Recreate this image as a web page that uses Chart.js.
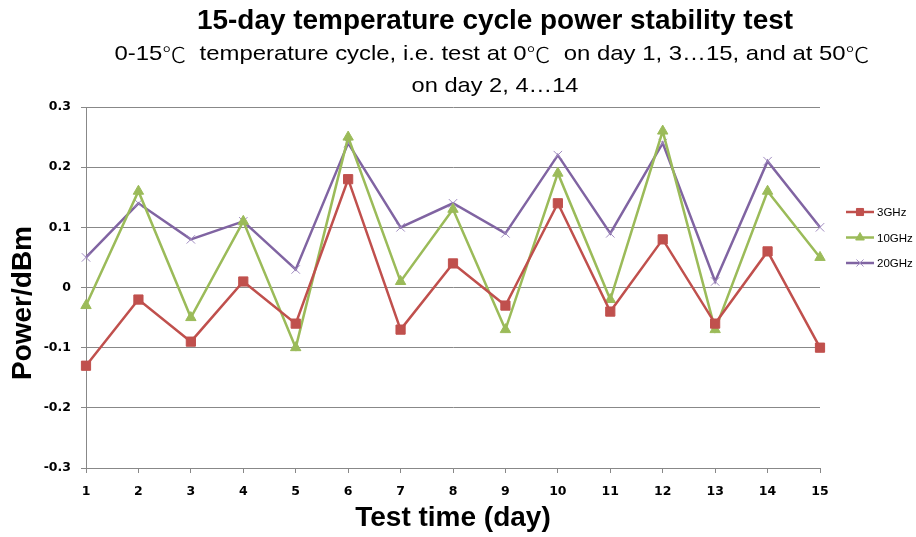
<!DOCTYPE html>
<html>
<head>
<meta charset="utf-8">
<script src="https://cdn.jsdelivr.net/npm/chart.js@4/dist/chart.umd.min.js"></script>
<style>
  html, body { margin: 0; padding: 0; background: #fff; }
  #wrap { width: 916px; height: 537px; position: relative; }
</style>
</head>
<body>
<div id="wrap"><canvas id="tempChart" width="916" height="537"></canvas></div>
<script>
// chart data
const days = ["1", "2", "3", "4", "5", "6", "7", "8", "9", "10", "11", "12", "13", "14", "15"];
const seriesNames = ["3GHz", "10GHz", "20GHz"];
const power3GHz = [-0.13, -0.02, -0.09, 0.01, -0.06, 0.18, -0.07, 0.04, -0.03, 0.14, -0.04, 0.08, -0.06, 0.06, -0.10];
const power10GHz = [-0.03, 0.16, -0.05, 0.11, -0.10, 0.25, 0.01, 0.13, -0.07, 0.19, -0.02, 0.26, -0.07, 0.16, 0.05];
const power20GHz = [0.05, 0.14, 0.08, 0.11, 0.03, 0.24, 0.10, 0.14, 0.09, 0.22, 0.09, 0.24, 0.01, 0.21, 0.10];
const yTicks = [-0.3, -0.2, -0.1, 0, 0.1, 0.2, 0.3];

const titleText = "15-day temperature cycle power stability test";
const subtitleLines = [
  "0-15\u2103  temperature cycle, i.e. test at 0\u2103  on day 1, 3\u202615, and at 50\u2103",
  "on day 2, 4\u202614"
];
const xTitle = "Test time (day)";
const yTitle = "Power/dBm";

const colors = ["#C0504D", "#9BBB59", "#8064A2"];
const markers = ["rect", "triangle", "crossRot"];
const gridColor = "#888888";

const latinFont = "21px 'Liberation Sans', Arial, sans-serif";
const cjkFont = "300 21px 'Noto Sans CJK SC', sans-serif";

// draw a line of text centred at cx, fitted to the given width;
// the degree sign uses a CJK font like the original
function fitText(ctx, text, cx, cy, width) {
  const parts = text.split(/(\u2103)/).filter((p) => p.length);
  const fontOf = (p) => (p === "\u2103" ? cjkFont : latinFont);
  let natural = 0;
  parts.forEach((p) => {
    ctx.font = fontOf(p);
    natural += ctx.measureText(p).width;
  });
  const k = width / natural;
  ctx.save();
  ctx.translate(cx - width / 2, cy);
  ctx.scale(k, 1);
  ctx.textAlign = "left";
  let x = 0;
  parts.forEach((p) => {
    ctx.font = fontOf(p);
    ctx.fillText(p, x, 0);
    x += ctx.measureText(p).width;
  });
  ctx.restore();
}

// titles, axis titles and the line+marker legend
const decorations = {
  id: "decorations",
  afterDraw(chart) {
    const ctx = chart.ctx;
    ctx.save();
    ctx.fillStyle = "#000";
    ctx.textAlign = "center";
    ctx.textBaseline = "middle";
    ctx.font = "bold 27px 'Liberation Sans', Arial, sans-serif";
    ctx.save();
    const tw = ctx.measureText(titleText).width;
    ctx.translate(495, 22);
    ctx.scale(596 / tw, 1);
    ctx.fillText(titleText, 0, 0);
    ctx.restore();

    fitText(ctx, subtitleLines[0], 492, 54, 755);
    fitText(ctx, subtitleLines[1], 495, 86, 167);

    ctx.textAlign = "center";
    ctx.font = "bold 28px 'Liberation Sans', Arial, sans-serif";
    ctx.fillText(xTitle, 453, 518);
    ctx.save();
    ctx.translate(23, 303);
    ctx.rotate(-Math.PI / 2);
    ctx.fillText(yTitle, 0, 0);
    ctx.restore();

    // legend
    ctx.font = "11.5px 'Liberation Sans', Arial, sans-serif";
    ctx.textAlign = "left";
    seriesNames.forEach((name, i) => {
      const y = 212 + i * 25.5;
      ctx.strokeStyle = colors[i];
      ctx.lineWidth = 2.5;
      ctx.beginPath();
      ctx.moveTo(846, y);
      ctx.lineTo(874, y);
      ctx.stroke();
      ctx.fillStyle = colors[i];
      ctx.strokeStyle = i === 2 ? "#A08CC0" : colors[i];
      ctx.lineWidth = 1;
      Chart.helpers.drawPoint(ctx, {
        pointStyle: markers[i],
        radius: 5,
        borderWidth: 1
      }, 860, y);
      ctx.fillStyle = "#000";
      ctx.fillText(name, 877, y + 1);
    });
    ctx.restore();
  }
};

function makeDataset(i, values) {
  return {
    label: seriesNames[i],
    data: values,
    borderColor: colors[i],
    backgroundColor: colors[i],
    borderWidth: 2.5,
    pointStyle: markers[i],
    pointRadius: i === 0 ? 6.5 : 6,
    pointBorderWidth: 1,
    pointBorderColor: i === 2 ? "#A08CC0" : colors[i],
    pointBackgroundColor: colors[i],
    tension: 0
  };
}

const ctx = document.getElementById("tempChart").getContext("2d");
new Chart(ctx, {
  type: "line",
  data: {
    labels: days,
    datasets: [
      makeDataset(0, power3GHz),
      makeDataset(1, power10GHz),
      makeDataset(2, power20GHz)
    ]
  },
  options: {
    responsive: false,
    animation: false,
    layout: { padding: { top: 107, right: 96, left: 0, bottom: 0 } },
    plugins: {
      legend: { display: false },
      title: { display: false },
      tooltip: { enabled: false }
    },
    scales: {
      x: {
        offset: false,
        grid: { drawOnChartArea: false, drawTicks: true, tickLength: 5, color: gridColor },
        border: { color: gridColor },
        ticks: {
          color: "#000",
          font: { family: "'DejaVu Sans', sans-serif", size: 12.5, weight: "bold" },
          padding: 11,
          maxRotation: 0
        },
        afterFit(scale) { scale.height = 69; }
      },
      y: {
        min: -0.3,
        max: 0.3,
        afterBuildTicks(scale) { scale.ticks = yTicks.map((v) => ({ value: v })); },
        grid: { color: gridColor, tickLength: 5 },
        border: { color: gridColor },
        ticks: {
          color: "#000",
          font: { family: "'DejaVu Sans', sans-serif", size: 12.5, weight: "bold" },
          padding: 10,
          callback: (v) => String(Math.round(v * 10) / 10)
        },
        afterFit(scale) { scale.width = 86; }
      }
    }
  },
  plugins: [decorations]
});
</script>
</body>
</html>
